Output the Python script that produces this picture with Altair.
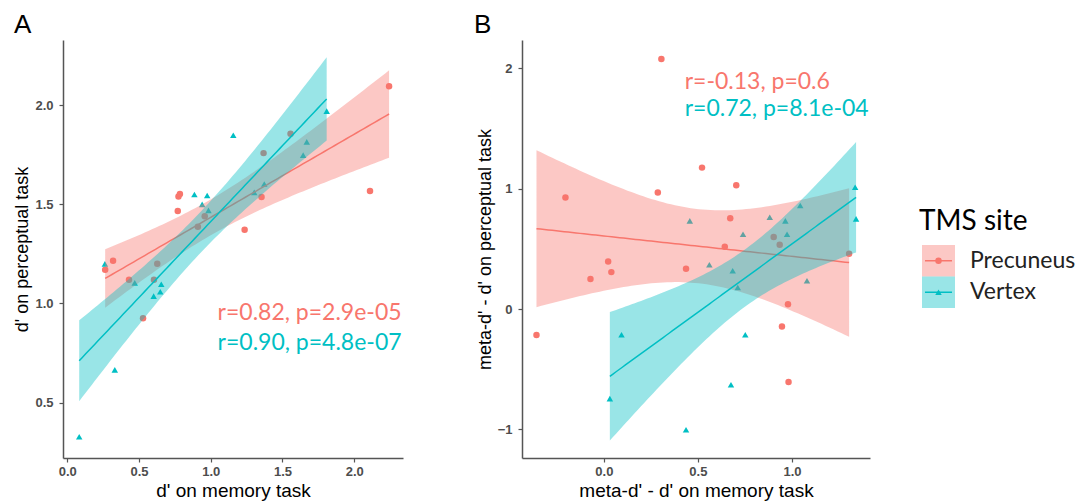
import altair as alt
import numpy as np
import pandas as pd

RED = "#F8766D"
TEAL = "#00BFC4"
sites = ["Precuneus", "Vertex"]

# ---------------- Panel A data ----------------
a_pre_x = [0.264, 0.319, 0.43, 0.528, 0.604, 0.627, 0.77, 0.775, 0.785, 0.91, 0.958,
           1.236, 1.354, 1.368, 1.556, 2.11, 2.243]
a_pre_y = [1.17, 1.216, 1.12, 0.925, 1.12, 1.2, 1.467, 1.54, 1.553, 1.387, 1.44,
           1.372, 1.538, 1.759, 1.857, 1.568, 2.096]
a_ver_x = [0.083, 0.262, 0.331, 0.47, 0.602, 0.648, 0.655, 0.886, 0.94, 0.975, 0.984,
           1.157, 1.303, 1.373, 1.644, 1.669, 1.808]
a_ver_y = [0.327, 1.2, 0.665, 1.104, 1.037, 1.059, 1.097, 1.55, 1.50, 1.545, 1.47,
           1.849, 1.561, 1.603, 1.749, 1.816, 1.971]

# ---------------- Panel B data ----------------
b_pre_x = [-0.358, -0.204, -0.071, 0.023, 0.04, 0.287, 0.306, 0.437, 0.522, 0.643,
           0.672, 0.704, 0.903, 0.935, 0.947, 0.979, 0.982, 1.304]
b_pre_y = [-0.216, 0.926, 0.249, 0.395, 0.307, 0.968, 2.077, 0.334, 1.175, 0.517,
           0.755, 1.029, 0.598, 0.534, -0.144, 0.041, -0.606, 0.459]
b_ver_x = [0.032, 0.094, 0.437, 0.457, 0.561, 0.676, 0.685, 0.712, 0.74, 0.752,
           0.882, 0.965, 0.974, 1.044, 1.08, 1.336, 1.341]
b_ver_y = [-0.744, -0.213, -1.002, 0.733, 0.368, -0.628, 0.318, 0.179, 0.622, -0.213,
           0.763, 0.733, 0.622, 0.86, 0.235, 1.012, 0.749]

# annotation texts
a_labels = ["r=0.82, p=2.9e-05", "r=0.90, p=4.8e-07"]
b_labels = ["r=-0.13, p=0.6", "r=0.72, p=8.1e-04"]

# axis tick values
a_xticks = [0.0, 0.5, 1.0, 1.5, 2.0]
a_yticks = [0.5, 1.0, 1.5, 2.0]
b_xticks = [0.0, 0.5, 1.0]
b_yticks = [-1, 0, 1, 2]

T975 = {14: 2.145, 15: 2.131, 16: 2.120, 17: 2.110, 18: 2.101}

cscale = alt.Scale(domain=sites, range=[RED, TEAL])
sscale = alt.Scale(domain=sites, range=["circle", "triangle-up"])

AXIS_FONT = "Liberation Sans"
TEXT_FONT = "Lato"


def lm_band(xs, ys, n_grid=80):
    x = np.asarray(xs, float)
    y = np.asarray(ys, float)
    n = len(x)
    b1, b0 = np.polyfit(x, y, 1)
    resid = y - (b0 + b1 * x)
    s = np.sqrt(np.sum(resid ** 2) / (n - 2))
    sxx = np.sum((x - x.mean()) ** 2)
    g = np.linspace(x.min(), x.max(), n_grid)
    fit = b0 + b1 * g
    se = s * np.sqrt(1.0 / n + (g - x.mean()) ** 2 / sxx)
    t = T975.get(n - 2, 2.1)
    return pd.DataFrame({"x": g, "fit": fit, "lo": fit - t * se, "hi": fit + t * se})


def panel(pre_x, pre_y, ver_x, ver_y, xdom, ydom, xticks, yticks, xfmt, yfmt,
          xtitle, ytitle, width, letter, letter_dx, ann, ann_align):
    pts = pd.DataFrame({
        "x": list(pre_x) + list(ver_x),
        "y": list(pre_y) + list(ver_y),
        "site": ["Precuneus"] * len(pre_x) + ["Vertex"] * len(ver_x),
    })
    xs = alt.Scale(domain=xdom, nice=False, zero=False)
    ys = alt.Scale(domain=ydom, nice=False, zero=False)
    xax = alt.Axis(values=xticks, format=xfmt, title=xtitle, grid=False)
    yax = alt.Axis(values=yticks, format=yfmt, title=ytitle, grid=False)

    points = alt.Chart(pts).mark_point(filled=True, size=42, opacity=1).encode(
        x=alt.X("x:Q", scale=xs, axis=xax),
        y=alt.Y("y:Q", scale=ys, axis=yax),
        color=alt.Color("site:N", scale=cscale, legend=None),
        shape=alt.Shape("site:N", scale=sscale, legend=None),
    )
    layers = [points]
    for site, sx, sy, col in [("Precuneus", pre_x, pre_y, RED), ("Vertex", ver_x, ver_y, TEAL)]:
        band = lm_band(sx, sy)
        layers.append(alt.Chart(band).mark_area(color=col, opacity=0.4).encode(
            x=alt.X("x:Q", scale=xs), y=alt.Y("lo:Q", scale=ys), y2="hi:Q"))
        layers.append(alt.Chart(band).mark_line(color=col, strokeWidth=1.5).encode(
            x=alt.X("x:Q", scale=xs), y=alt.Y("fit:Q", scale=ys)))
    ann_df = pd.DataFrame({"x": [a[0] for a in ann], "y": [a[1] for a in ann],
                           "label": [a[2] for a in ann], "site": sites})
    layers.append(alt.Chart(ann_df).mark_text(
        align=ann_align, baseline="middle", font=TEXT_FONT, fontSize=23).encode(
        x=alt.X("x:Q", scale=xs), y=alt.Y("y:Q", scale=ys), text="label:N",
        color=alt.Color("site:N", scale=cscale, legend=None)))
    layers.append(alt.Chart(pd.DataFrame({"t": [letter]})).mark_text(
        align="left", baseline="alphabetic", font=AXIS_FONT, fontSize=26,
        color="black").encode(x=alt.value(letter_dx), y=alt.value(-7), text="t:N"))
    return alt.layer(*layers).properties(width=width, height=418)


A = panel(a_pre_x, a_pre_y, a_ver_x, a_ver_y, [-0.03, 2.34], [0.22, 2.33],
          a_xticks, a_yticks, ".1f", ".1f", "d' on memory task", "d' on perceptual task",
          340, "A", -49,
          [(2.33, 0.95, a_labels[0]), (2.33, 0.80, a_labels[1])], "right")
B = panel(b_pre_x, b_pre_y, b_ver_x, b_ver_y, [-0.435, 1.415], [-1.237, 2.235],
          b_xticks, b_yticks, ".1f", "d", "meta-d' - d' on memory task",
          "meta-d' - d' on perceptual task",
          348, "B", -48,
          [(0.43, 1.89, b_labels[0]), (0.43, 1.665, b_labels[1])], "left")

# ---------------- custom legend panel ----------------
leg_df = pd.DataFrame({"site": sites})
ly = alt.Y("site:N", scale=alt.Scale(domain=sites, range=[205, 268], paddingInner=0,
                                     paddingOuter=0), axis=None)
lcol = alt.Color("site:N", scale=cscale, legend=None)
leg_box = alt.Chart(leg_df).mark_rect(opacity=0.4).encode(
    x=alt.value(-67), x2=alt.value(-34), y=ly, color=lcol)
leg_line = alt.Chart(leg_df).mark_rule(strokeWidth=1.5).encode(
    x=alt.value(-64), x2=alt.value(-37), y=ly, color=lcol)
leg_pt = alt.Chart(leg_df).mark_point(filled=True, size=42, opacity=1).encode(
    x=alt.value(-50.5), y=ly, color=lcol,
    shape=alt.Shape("site:N", scale=sscale, legend=None))
leg_txt = alt.Chart(leg_df).mark_text(align="left", baseline="middle", font=TEXT_FONT,
                                      fontSize=23, color="#222222").encode(
    x=alt.value(-19), y=ly, text="site:N")
leg_title = alt.Chart(pd.DataFrame({"t": ["TMS site"]})).mark_text(
    align="left", baseline="alphabetic", font=TEXT_FONT, fontSize=28, color="black").encode(
    x=alt.value(-70), y=alt.value(190), text="t:N")
C = alt.layer(leg_box, leg_line, leg_pt, leg_txt, leg_title).properties(width=60, height=418)

chart = alt.hconcat(A, B, C, spacing=119, bounds="flush").properties(
    padding={"left": 5, "top": 4, "right": 0, "bottom": 2}
).configure_view(stroke=None).configure_axis(
    domainColor="#555555", domainWidth=1.5, tickColor="#555555", tickSize=4,
    tickWidth=1.2, labelFont=AXIS_FONT, labelFontSize=13, labelFontWeight="bold",
    labelColor="#4D4D4D", titleFont=AXIS_FONT,
    titleFontWeight="normal", titleColor="black",
).configure_axisX(
    titleFontSize=19, labelPadding=3, titlePadding=3,
).configure_axisY(
    titleFontSize=18, labelPadding=6, titlePadding=3,
)

chart.save("out.html", embed_options={"renderer": "svg", "actions": False})
